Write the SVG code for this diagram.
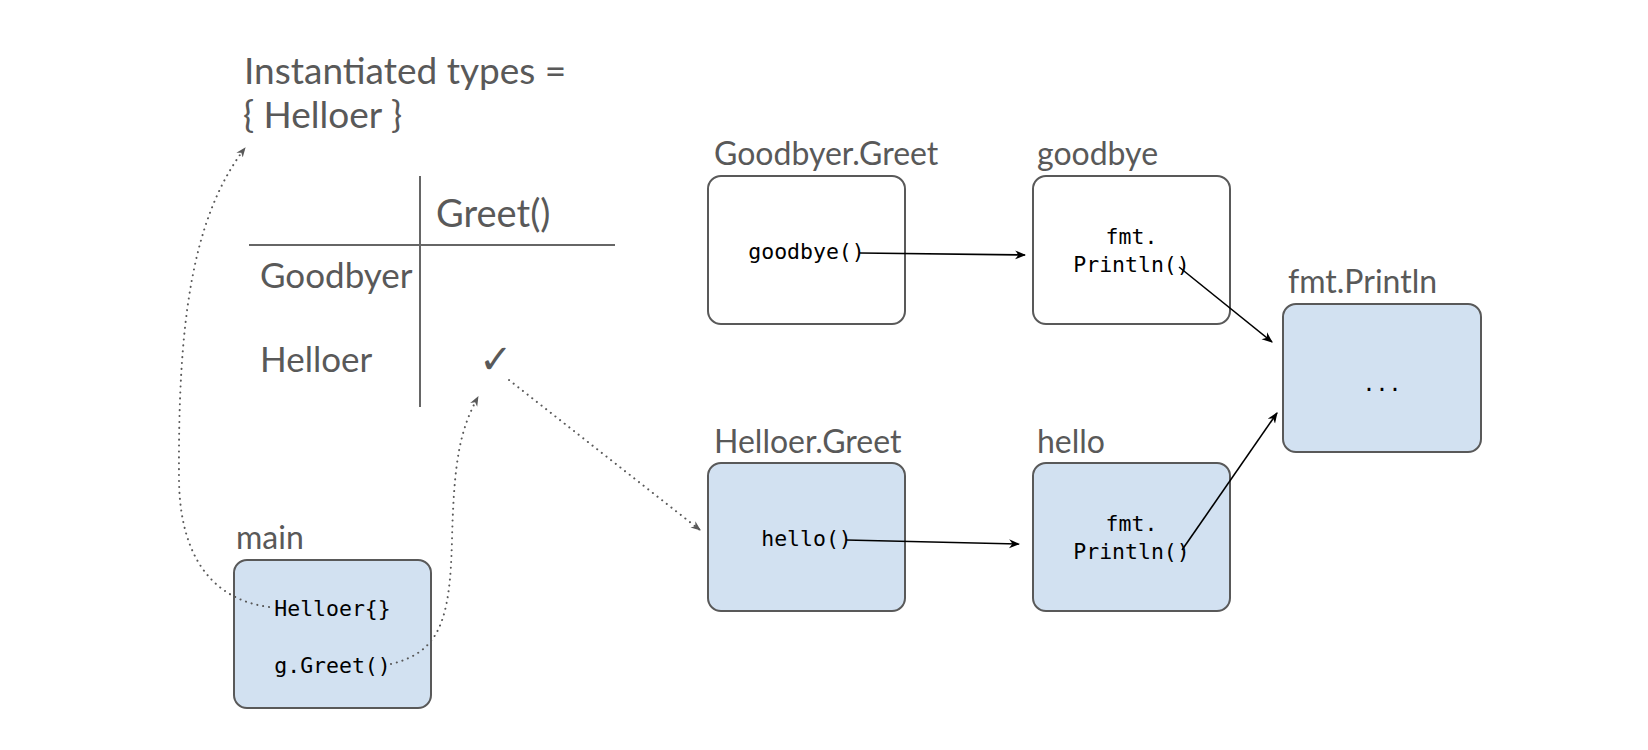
<svg xmlns="http://www.w3.org/2000/svg" width="1648" height="750" viewBox="0 0 1648 750">
<style>
.lbl{font-family:Lato,"Open Sans","Liberation Sans",sans-serif;font-size:32px;fill:#595959}
.big{font-family:Lato,"Open Sans","Liberation Sans",sans-serif;font-size:37px;fill:#595959}
.row{font-family:Lato,"Open Sans","Liberation Sans",sans-serif;font-size:35px;fill:#595959}
.code{font-family:"DejaVu Sans Mono","Liberation Mono",monospace;font-size:21.5px;fill:#000;text-anchor:middle}
.box{stroke:#595959;stroke-width:2}
.blue{fill:#d2e1f1}
.white{fill:#fff}
.tline{stroke:#666;stroke-width:2;fill:none}
.dot{stroke:#595959;stroke-width:2;fill:none;stroke-dasharray:0.1 5.8;stroke-linecap:round}
.sol{stroke:#000;stroke-width:1.6;fill:none}
</style>
<defs>
<marker id="ah" viewBox="0 0 10 10" refX="9" refY="5" markerWidth="11" markerHeight="11" markerUnits="userSpaceOnUse" orient="auto"><path d="M0,1 L10,5 L0,9 L3,5 z" fill="#000"/></marker>
<marker id="ahg" viewBox="0 0 10 10" refX="9" refY="5" markerWidth="10" markerHeight="10" markerUnits="userSpaceOnUse" orient="auto"><path d="M0,1 L10,5 L0,9 L3,5 z" fill="#595959"/></marker>
</defs>
<g id="instantiated">
<text class="big" x="244" y="84">Instantiated types =</text>
<text class="big" x="243" y="128">{ Helloer }</text>
</g>
<g id="table">
<line class="tline" x1="420" y1="176" x2="420" y2="407"/>
<line class="tline" x1="249" y1="245" x2="615" y2="245"/>
<text class="big" x="436" y="227" style="font-size:38px">Greet()</text>
<text class="row" x="260" y="288">Goodbyer</text>
<text class="row" x="260" y="372">Helloer</text>
<text x="479" y="373" style="font-family:'DejaVu Sans',sans-serif;font-size:40px;fill:#595959">✓</text>
</g>
<g id="main">
<text class="lbl" x="236" y="549">main</text>
<rect class="box blue" x="234" y="560" width="197" height="148" rx="13"/>
<text class="code" x="332.5" y="616">Helloer{}</text>
<text class="code" x="332.5" y="673">g.Greet()</text>
</g>
<g id="goodbyer-greet">
<text class="lbl" x="714" y="165">Goodbyer.Greet</text>
<rect class="box white" x="708" y="176" width="197" height="148" rx="13"/>
<text class="code" x="806.5" y="259">goodbye()</text>
</g>
<g id="goodbye">
<text class="lbl" x="1037" y="165">goodbye</text>
<rect class="box white" x="1033" y="176" width="197" height="148" rx="13"/>
<text class="code" x="1131.5" y="244">fmt.</text>
<text class="code" x="1131.5" y="272">Println()</text>
</g>
<g id="helloer-greet">
<text class="lbl" x="714" y="453">Helloer.Greet</text>
<rect class="box blue" x="708" y="463" width="197" height="148" rx="13"/>
<text class="code" x="806.5" y="546">hello()</text>
</g>
<g id="hello">
<text class="lbl" x="1037" y="453">hello</text>
<rect class="box blue" x="1033" y="463" width="197" height="148" rx="13"/>
<text class="code" x="1131.5" y="531">fmt.</text>
<text class="code" x="1131.5" y="559">Println()</text>
</g>
<g id="fmt-println">
<text class="lbl" x="1288" y="293">fmt.Println</text>
<rect class="box blue" x="1283" y="304" width="198" height="148" rx="13"/>
<text class="code" x="1382" y="391">...</text>
</g>
<g id="connectors">
<path class="dot" d="M269 607 C215 600 180 560 179 480 C178 330 190 220 245 148" marker-end="url(#ahg)"/>
<path class="dot" d="M391 664 C440 652 450 620 452 540 C454 460 460 430 478 397" marker-end="url(#ahg)"/>
<path class="dot" d="M509 380 L700 530" marker-end="url(#ahg)"/>
<path class="sol" d="M860 253 L1025 255" marker-end="url(#ah)"/>
<path class="sol" d="M1179 267 L1272 342" marker-end="url(#ah)"/>
<path class="sol" d="M846 540 L1019 544" marker-end="url(#ah)"/>
<path class="sol" d="M1182 550 L1277 413" marker-end="url(#ah)"/>
</g>
</svg>
